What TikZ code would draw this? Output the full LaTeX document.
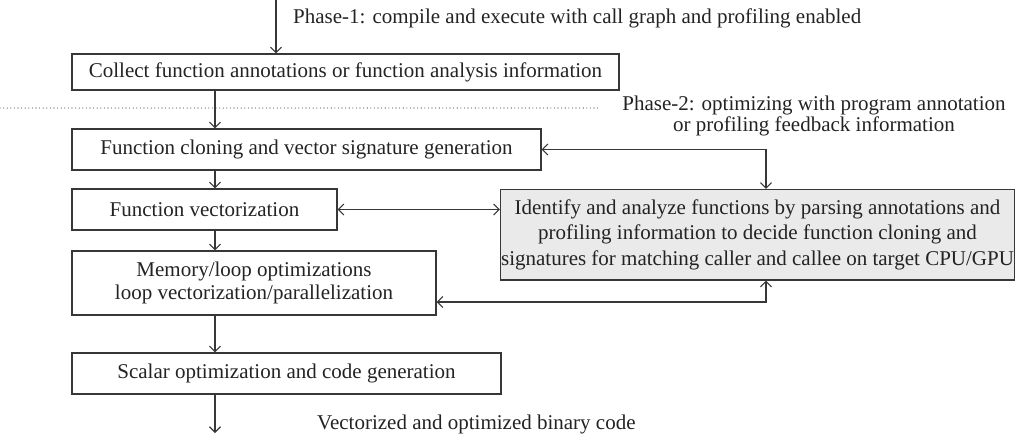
\documentclass[tikz,border=0pt]{standalone}
\usepackage{fontspec}
\setmainfont{Liberation Serif}
\usetikzlibrary{arrows.meta}
\definecolor{ln}{RGB}{55,55,55}
\definecolor{tx}{RGB}{35,35,35}
\definecolor{gfill}{RGB}{234,234,234}
\tikzset{
  box/.style={draw=ln, line width=1.2pt, inner sep=0pt, align=center, text=tx,
    font=\fontsize{21}{23}\selectfont},
  lbl/.style={inner sep=0pt, align=center, text=tx, font=\fontsize{21}{21}\selectfont},
  arr/.style={draw=ln, line width=1.1pt, -{Straight Barb[length=5.5pt,width=11pt,line width=1.1pt]}},
  darr/.style={draw=ln, line width=1.1pt, {Straight Barb[length=5.5pt,width=11pt,line width=1.1pt]}-{Straight Barb[length=5.5pt,width=11pt,line width=1.1pt]}},
  dots/.style={draw=ln, line width=1.1pt, line cap=round, dash pattern=on 0pt off 3.6pt}
}
\begin{document}
\begin{tikzpicture}[x=1pt,y=-1pt]
\useasboundingbox (0,0) rectangle (1016,440);
% boxes
\node[box, minimum width=547, minimum height=36] (b1) at (345.5,72) {Collect function annotations or function analysis information};
\node[box, minimum width=469, minimum height=41] (b2) at (306.5,149.5) {Function cloning and vector signature generation};
\node[box, minimum width=265, minimum height=41] (b3) at (204.5,209.5) {Function vectorization};
\node[box, minimum width=364, minimum height=64, font=\fontsize{21}{23}\selectfont] (b4) at (254,283) {Memory/loop optimizations\\loop vectorization/parallelization};
\node[box, fill=gfill, minimum width=514, minimum height=90.5, font=\fontsize{21}{25.5}\selectfont] (R) at (757.5,234.75) {Identify and analyze functions by parsing annotations and\\profiling information to decide function cloning and\\signatures for matching caller and callee on target CPU/GPU};
\node[box, minimum width=429, minimum height=41] (b5) at (286.5,373.5) {Scalar optimization and code generation};
% labels
\node[lbl, anchor=west] (p1) at (293,18) {Phase-1: compile and execute with call graph and profiling enabled};
\node[lbl] (p2) at (814,116) {Phase-2: optimizing with program annotation\\or profiling feedback information};
\node[lbl, anchor=west] (out) at (317,424) {Vectorized and optimized binary code};
% coordinates
\coordinate (start) at (276,0);
\coordinate (vx) at (215,0);
\coordinate (rx) at (766,0);
\coordinate (low) at (766,302);
\coordinate (end) at (215,433);
\coordinate (dl) at (0,108);
\coordinate (dr) at (598,108);
% dotted separator
\draw[dots] (dl) -- (dr);
% main flow
\draw[arr] (start) -- (start |- b1.north);
\draw[arr] (vx |- b1.south) -- (vx |- b2.north);
\draw[arr] (vx |- b2.south) -- (vx |- b3.north);
\draw[arr] (vx |- b3.south) -- (vx |- b4.north);
\draw[arr] (vx |- b4.south) -- (vx |- b5.north);
\draw[arr] (vx |- b5.south) -- (end);
% feedback connectors
\draw[darr] (b2.east) -- (b2.east -| rx) -- (rx |- R.north);
\draw[darr] (b3.east) -- (b3.east -| R.west);
\draw[darr] (low -| b4.east) -- (low) -- (low |- R.south);
\end{tikzpicture}
\end{document}
